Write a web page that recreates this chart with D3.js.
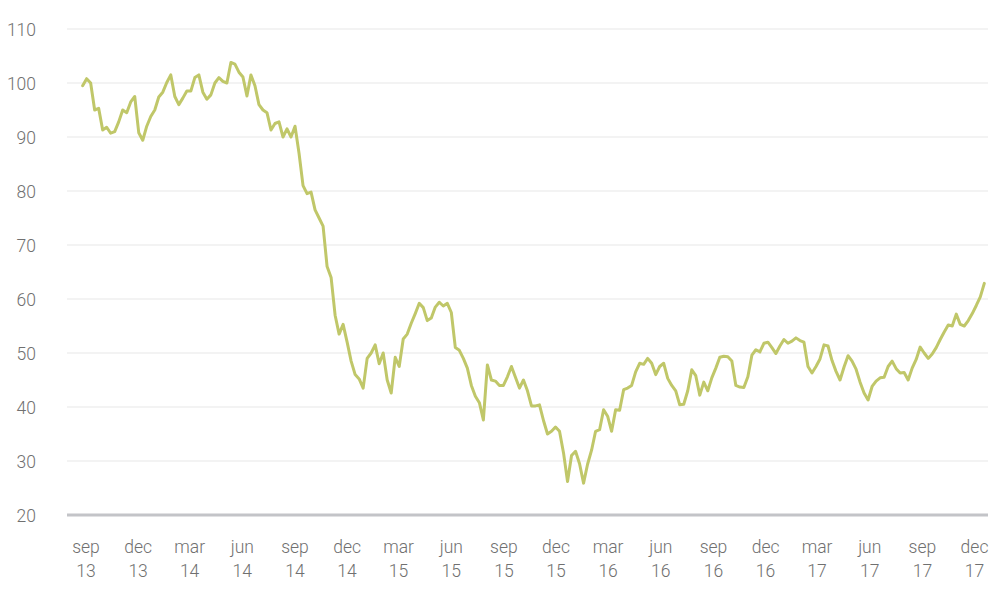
<!DOCTYPE html>
<html>
<head>
<meta charset="utf-8">
<script src="https://cdn.jsdelivr.net/npm/d3@7"></script>
<style>
  html, body { margin: 0; padding: 0; background: #ffffff; }
  svg { display: block; }
  text { font-family: Roboto, "Open Sans", sans-serif; }
</style>
</head>
<body>
<svg id="chart" width="1000" height="591"></svg>
<script>
// ---- data ----
// weekly observations, first one on 2013-08-27
const startDate = "2013-08-27";
const stepDays = 7;
const prices = [
  99.5, 100.8, 100, 95, 95.3, 91.3, 91.8, 90.7, 91, 92.8,
  95, 94.5, 96.5, 97.5, 90.8, 89.4, 92, 93.8, 95, 97.4,
  98.3, 100.1, 101.5, 97.5, 96, 97.2, 98.5, 98.5, 101, 101.5,
  98.3, 97, 97.8, 100, 101, 100.3, 100, 103.8, 103.5, 102,
  101.1, 97.6, 101.5, 99.5, 96, 95, 94.5, 91.3, 92.5, 92.8,
  90, 91.5, 90, 92, 87, 81, 79.5, 79.8, 76.5, 75,
  73.5, 66, 64, 57, 53.5, 55.3, 52, 48.5, 46, 45.2,
  43.5, 49, 50, 51.5, 48, 50, 45, 42.6, 49.2, 47.5,
  52.6, 53.5, 55.5, 57.3, 59.2, 58.4, 56, 56.5, 58.5, 59.4,
  58.7, 59.2, 57.5, 51, 50.5, 49, 47.2, 44, 42, 40.8,
  37.6, 47.8, 45, 44.8, 44, 44, 45.6, 47.5, 45.5, 43.5,
  45, 43, 40.2, 40.2, 40.4, 37.5, 35, 35.5, 36.3, 35.5,
  31.5, 26.2, 31, 31.8, 29.5, 25.9, 29.4, 32, 35.5, 35.8,
  39.5, 38.3, 35.5, 39.5, 39.4, 43.2, 43.5, 44, 46.5, 48.1,
  47.9, 49, 48.1, 46, 47.5, 48.1, 45.3, 44, 43, 40.4,
  40.5, 43, 46.9, 45.8, 42.2, 44.6, 43, 45.4, 47.2, 49.2,
  49.4, 49.3, 48.5, 44, 43.7, 43.6, 45.6, 49.6, 50.6, 50.2,
  51.8, 52, 51, 49.9, 51.3, 52.5, 51.8, 52.2, 52.8, 52.3,
  52, 47.5, 46.3, 47.5, 48.9, 51.5, 51.3, 48.6, 46.6, 45,
  47.4, 49.5, 48.5, 47, 44.6, 42.6, 41.3, 43.8, 44.8, 45.4,
  45.5, 47.5, 48.5, 47.1, 46.3, 46.4, 45, 47.2, 48.8, 51.1,
  50, 49, 49.8, 51, 52.5, 53.9, 55.2, 55, 57.2, 55.3,
  55, 56, 57.3, 58.8, 60.4, 62.9
];
const yTicks = [20, 30, 40, 50, 60, 70, 80, 90, 100, 110];
const xTickDates = ["2013-09-01","2013-12-01","2014-03-01","2014-06-01","2014-09-01","2014-12-01",
  "2015-03-01","2015-06-01","2015-09-01","2015-12-01","2016-03-01","2016-06-01","2016-09-01",
  "2016-12-01","2017-03-01","2017-06-01","2017-09-01","2017-12-01"];
const xTickMonths = ["sep","dec","mar","jun","sep","dec","mar","jun","sep","dec","mar","jun","sep","dec","mar","jun","sep","dec"];
const xTickYears = ["13","13","14","14","14","14","15","15","15","15","16","16","16","16","17","17","17","17"];

// ---- build ----
const parse = d3.utcParse("%Y-%m-%d");
const t0 = parse(startDate);
const series = prices.map((v, i) => ({ date: d3.utcDay.offset(t0, i * stepDays), value: v }));

const svg = d3.select("#chart");
const plotLeft = 67, plotRight = 988;

const x = d3.scaleUtc()
  .domain([parse(xTickDates[0]), parse(xTickDates[xTickDates.length - 1])])
  .range([85.5, 974]);
const y = d3.scaleLinear().domain([20, 110]).range([515, 29]);

// grid lines
const grid = svg.append("g");
grid.selectAll("line")
  .data(yTicks.filter(d => d !== 20))
  .join("line")
  .attr("x1", plotLeft).attr("x2", plotRight)
  .attr("y1", d => y(d)).attr("y2", d => y(d))
  .attr("stroke", "#e8e8e8").attr("stroke-width", 1.2);

// y axis labels via d3 axis
const yAxis = svg.append("g")
  .attr("transform", `translate(${plotLeft - 31},0)`)
  .call(d3.axisLeft(y).tickValues(yTicks).tickSize(0).tickPadding(0));
yAxis.select(".domain").remove();
yAxis.selectAll("text")
  .attr("font-size", 17.5)
  .attr("fill", "#707070")
  .attr("font-weight", 300)
  .attr("dy", "0.35em");

// line
const line = d3.line().x(d => x(d.date)).y(d => y(d.value)).curve(d3.curveLinear);
svg.append("path")
  .datum(series)
  .attr("d", line)
  .attr("fill", "none")
  .attr("stroke", "#c0c769")
  .attr("stroke-width", 3)
  .attr("stroke-linejoin", "round")
  .attr("stroke-linecap", "round");

// baseline at 20
svg.append("line")
  .attr("x1", plotLeft).attr("x2", plotRight)
  .attr("y1", y(20)).attr("y2", y(20))
  .attr("stroke", "#c3c4c8").attr("stroke-width", 3);

// x axis labels
const xAxis = svg.append("g")
  .attr("transform", `translate(0,${y(20)})`)
  .call(d3.axisBottom(x).tickValues(xTickDates.map(parse)).tickSize(0).tickFormat(""));
xAxis.select(".domain").remove();
xAxis.selectAll(".tick").each(function(d, i) {
  const g = d3.select(this);
  g.selectAll("text").remove();
  g.append("text")
    .attr("y", 32).attr("dy", "0.35em")
    .attr("text-anchor", "middle")
    .attr("font-size", 17.5).attr("font-weight", 300).attr("fill", "#707070")
    .text(xTickMonths[i]);
  g.append("text")
    .attr("y", 56).attr("dy", "0.35em")
    .attr("text-anchor", "middle")
    .attr("font-size", 17.5).attr("font-weight", 300).attr("fill", "#707070")
    .text(xTickYears[i]);
});
</script>
</body>
</html>
